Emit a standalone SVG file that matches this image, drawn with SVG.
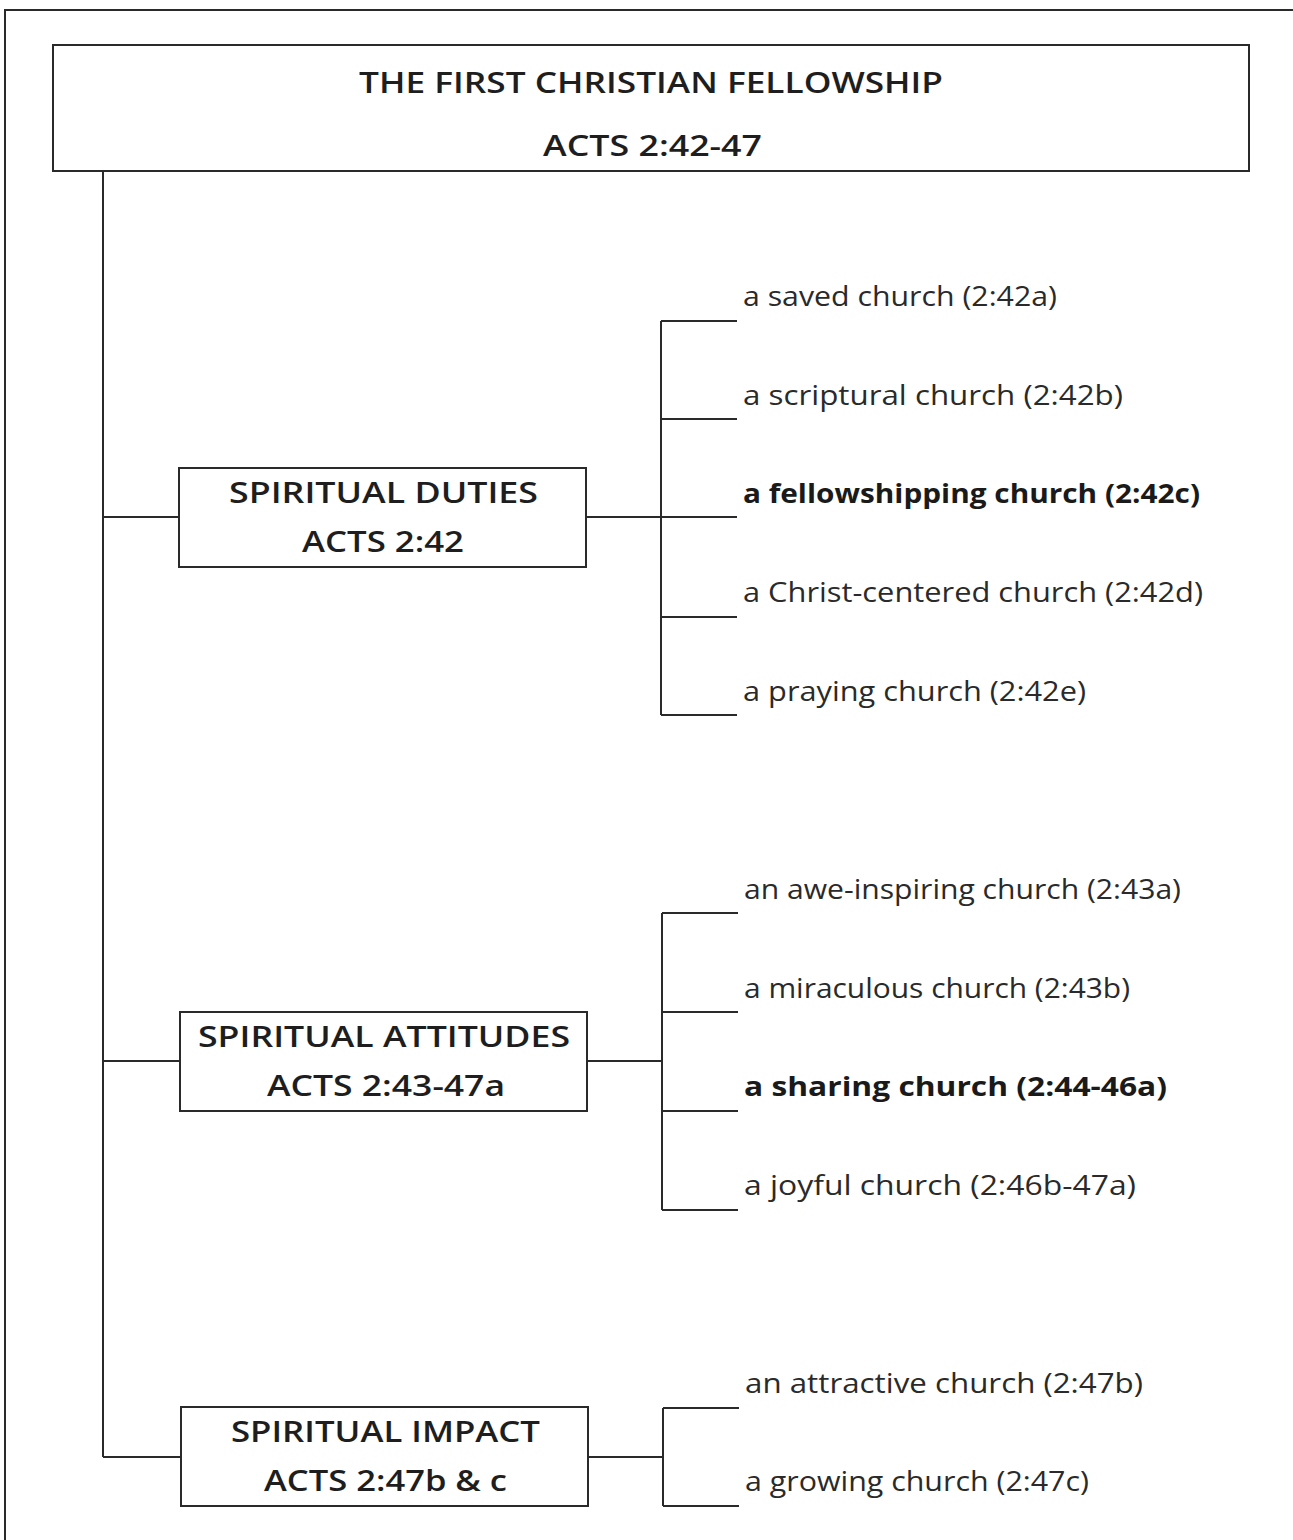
<svg xmlns="http://www.w3.org/2000/svg" width="1293" height="1540" viewBox="0 0 1293 1540">
<style>
.ln{stroke:#2a2a2a;stroke-width:2;fill:none}
.box{stroke:#2a2a2a;stroke-width:2;fill:#fff}
.hd{font-family:"Open Sans","DejaVu Sans",sans-serif;font-size:29px;font-weight:600;fill:#1e1e1e}
.it{font-family:"Open Sans","DejaVu Sans",sans-serif;font-size:27px;fill:#2a2a2a}
.b{font-weight:700;fill:#1a1a1a}
</style>
<rect width="1293" height="1540" fill="#fff"/>
<g id="frame">
<path class="ln" d="M5 1540 V10 H1293" stroke-width="3"/>
</g>
<g id="connectors">
<path class="ln" d="M103 171 V1457"/>
<path class="ln" d="M103 517 H179 M103 1061 H180 M103 1457 H181"/>
<path class="ln" d="M586 517 H737 M661 321 V715 M661 321 H737 M661 419 H737 M661 617 H737 M661 715 H737"/>
<path class="ln" d="M587 1061 H662 M662 913 V1210 M662 913 H738 M662 1012 H738 M662 1111 H738 M662 1210 H738"/>
<path class="ln" d="M588 1457 H663 M663 1408 V1506 M663 1408 H739 M663 1506 H739"/>
</g>
<g id="title">
<rect class="box" x="53" y="45" width="1196" height="126"/>
<text class="hd" x="359" y="93" textLength="584" lengthAdjust="spacingAndGlyphs">THE FIRST CHRISTIAN FELLOWSHIP</text>
<text class="hd" x="543" y="156" textLength="219" lengthAdjust="spacingAndGlyphs">ACTS 2:42-47</text>
</g>
<g id="duties">
<rect class="box" x="179" y="468" width="407" height="99"/>
<text class="hd" x="229" y="503" textLength="309" lengthAdjust="spacingAndGlyphs">SPIRITUAL DUTIES</text>
<text class="hd" x="302" y="552" textLength="162" lengthAdjust="spacingAndGlyphs">ACTS 2:42</text>
</g>
<g id="attitudes">
<rect class="box" x="180" y="1012" width="407" height="99"/>
<text class="hd" x="198" y="1047" textLength="372" lengthAdjust="spacingAndGlyphs">SPIRITUAL ATTITUDES</text>
<text class="hd" x="267" y="1096" textLength="238" lengthAdjust="spacingAndGlyphs">ACTS 2:43-47a</text>
</g>
<g id="impact">
<rect class="box" x="181" y="1407" width="407" height="99"/>
<text class="hd" x="231" y="1442" textLength="309" lengthAdjust="spacingAndGlyphs">SPIRITUAL IMPACT</text>
<text class="hd" x="264" y="1491" textLength="243" lengthAdjust="spacingAndGlyphs">ACTS 2:47b &amp; c</text>
</g>
<g id="item-saved"><text class="it" x="743" y="306" textLength="314" lengthAdjust="spacingAndGlyphs">a saved church (2:42a)</text></g>
<g id="item-scriptural"><text class="it" x="743" y="405" textLength="380" lengthAdjust="spacingAndGlyphs">a scriptural church (2:42b)</text></g>
<g id="item-fellowshipping"><text class="it b" x="743" y="503" textLength="457" lengthAdjust="spacingAndGlyphs">a fellowshipping church (2:42c)</text></g>
<g id="item-christ"><text class="it" x="743" y="602" textLength="460" lengthAdjust="spacingAndGlyphs">a Christ-centered church (2:42d)</text></g>
<g id="item-praying"><text class="it" x="743" y="701" textLength="343" lengthAdjust="spacingAndGlyphs">a praying church (2:42e)</text></g>
<g id="item-awe"><text class="it" x="744" y="899" textLength="437" lengthAdjust="spacingAndGlyphs">an awe-inspiring church (2:43a)</text></g>
<g id="item-miraculous"><text class="it" x="744" y="998" textLength="386" lengthAdjust="spacingAndGlyphs">a miraculous church (2:43b)</text></g>
<g id="item-sharing"><text class="it b" x="744" y="1096" textLength="423" lengthAdjust="spacingAndGlyphs">a sharing church (2:44-46a)</text></g>
<g id="item-joyful"><text class="it" x="744" y="1195" textLength="392" lengthAdjust="spacingAndGlyphs">a joyful church (2:46b-47a)</text></g>
<g id="item-attractive"><text class="it" x="745" y="1393" textLength="398" lengthAdjust="spacingAndGlyphs">an attractive church (2:47b)</text></g>
<g id="item-growing"><text class="it" x="745" y="1491" textLength="344" lengthAdjust="spacingAndGlyphs">a growing church (2:47c)</text></g>
</svg>
